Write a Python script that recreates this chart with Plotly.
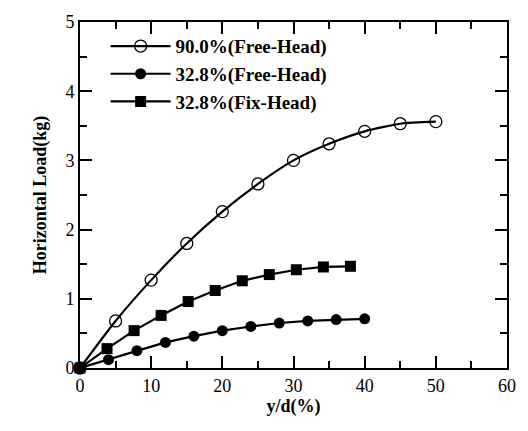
import plotly.graph_objects as go

# Lateral load vs. relative displacement y/d (%)
x_free90 = [0, 5, 10, 15, 20, 25, 30, 35, 40, 45, 50]
y_free90 = [0, 0.68, 1.27, 1.80, 2.26, 2.66, 3.00, 3.24, 3.42, 3.53, 3.56]

x_free33 = [0, 4, 8, 12, 16, 20, 24, 28, 32, 36, 40]
y_free33 = [0, 0.12, 0.25, 0.37, 0.46, 0.54, 0.60, 0.65, 0.68, 0.70, 0.71]

x_fix33 = [0, 3.8, 7.6, 11.4, 15.2, 19.0, 22.8, 26.6, 30.4, 34.2, 38.0]
y_fix33 = [0, 0.28, 0.54, 0.76, 0.96, 1.12, 1.26, 1.35, 1.42, 1.46, 1.47]

names = ["90.0%(Free-Head)", "32.8%(Free-Head)", "32.8%(Fix-Head)"]

FONT = "Liberation Serif"

fig = go.Figure()
fig.add_trace(go.Scatter(
    x=x_free90, y=y_free90, name=names[0], mode="lines+markers",
    line=dict(color="black", width=2.2, shape="spline", smoothing=0.6),
    marker=dict(symbol="circle-open", size=12, color="black", line=dict(width=1.3)),
    cliponaxis=False,
))
fig.add_trace(go.Scatter(
    x=x_free33, y=y_free33, name=names[1], mode="lines+markers",
    line=dict(color="black", width=2.2),
    marker=dict(symbol="circle", size=11, color="black"),
    cliponaxis=False,
))
fig.add_trace(go.Scatter(
    x=x_fix33, y=y_fix33, name=names[2], mode="lines+markers",
    line=dict(color="black", width=2.2),
    marker=dict(symbol="square", size=11, color="black"),
    cliponaxis=False,
))

axis_common = dict(
    showgrid=False, zeroline=False, showline=True, linecolor="black", linewidth=2,
    mirror="ticks", ticks="inside", ticklen=12, tickwidth=2, tickcolor="black",
    tickfont=dict(family=FONT, size=18, color="black"),
)

fig.update_xaxes(
    range=[0, 60], dtick=10, tick0=0,
    minor=dict(ticks="inside", dtick=5, ticklen=7, tickwidth=1.5, tickcolor="black"),
    title=dict(text="y/d(%)", font=dict(family=FONT, size=18, color="black", weight="bold"), standoff=4),
    **axis_common,
)
fig.update_yaxes(
    range=[0, 5], dtick=1, tick0=0,
    minor=dict(ticks="inside", dtick=0.5, ticklen=7, tickwidth=1.5, tickcolor="black"),
    title=dict(text="Horizontal Load(kg)", font=dict(family=FONT, size=18, color="black", weight="bold"), standoff=14),
    **axis_common,
)

fig.update_layout(
    width=528, height=431,
    margin=dict(l=80, r=16, t=13, b=63),
    paper_bgcolor="white", plot_bgcolor="white",
    legend=dict(
        x=0.06, y=0.985, xanchor="left", yanchor="top",
        bgcolor="rgba(0,0,0,0)", borderwidth=0,
        font=dict(family=FONT, size=19, color="black", weight="bold"),
        itemwidth=60, tracegroupgap=0,
    ),
)

fig.write_html("out.html")
